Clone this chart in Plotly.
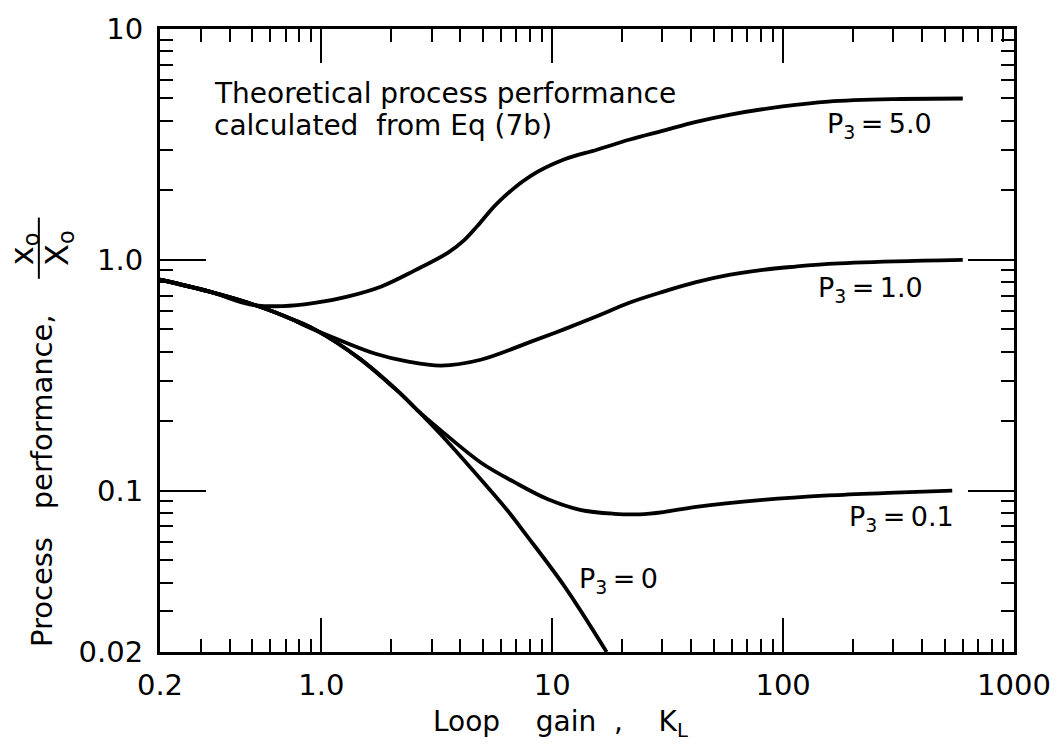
import math
import plotly.graph_objects as go

# ---------------- data ----------------
k_p5 = [0.2, 0.328, 0.49, 0.68, 0.95, 1.31, 1.82, 2.54, 3.54, 4.17, 4.76, 5.80, 8.04,
        11.3, 15.6, 21.7, 30.3, 42.0, 58.3, 99.5, 157, 305, 600]
y_p5 = [0.82, 0.728, 0.641, 0.630, 0.652, 0.695, 0.767, 0.90, 1.075, 1.22, 1.409, 1.767, 2.305,
        2.725, 3.0, 3.32, 3.63, 3.96, 4.25, 4.62, 4.85, 4.97, 5.0]

k_p1 = [0.2, 0.328, 0.538, 0.746, 0.824, 1.225, 1.715, 2.38, 3.30, 4.90, 8.04, 11.3,
        15.6, 21.7, 30.3, 42.0, 58.3, 81.6, 113, 157, 305, 600]
y_p1 = [0.82, 0.728, 0.628, 0.553, 0.526, 0.445, 0.392, 0.362, 0.348, 0.369, 0.441, 0.501,
        0.569, 0.653, 0.728, 0.80, 0.86, 0.905, 0.935, 0.96, 0.985, 1.0]

k_p01 = [0.2, 0.328, 0.538, 0.746, 0.947, 1.45, 2.15, 2.63, 3.30, 4.90, 6.86, 9.52,
         13.2, 18.5, 23.9, 30.3, 42.0, 81.6, 157, 305, 540]
y_p01 = [0.82, 0.728, 0.628, 0.553, 0.496, 0.376, 0.269, 0.221, 0.182, 0.1325, 0.1088, 0.0920,
         0.0826, 0.0794, 0.0790, 0.0808, 0.0851, 0.0912, 0.0954, 0.0980, 0.100]

k_p0 = [0.2, 0.328, 0.538, 0.746, 0.947, 1.45, 2.15, 2.63, 3.30, 4.90, 6.40, 7.58, 11.3, 17.2]
y_p0 = [0.82, 0.728, 0.628, 0.553, 0.496, 0.376, 0.269, 0.221, 0.1746, 0.112, 0.0820, 0.0658, 0.0385, 0.020]

x_tickvals = [0.2, 1, 10, 100, 1000]
x_ticktext = ["0.2", "1.0", "10", "100", "1000"]
x_minor = [0.3, 0.4, 0.5, 0.6, 0.7, 0.8, 0.9,
           2, 3, 4, 5, 6, 7, 8, 9,
           20, 30, 40, 50, 60, 70, 80, 90,
           200, 300, 400, 500, 600, 700, 800, 900]
y_tickvals = [0.02, 0.1, 1, 10]
y_ticktext = ["0.02", "0.1", "1.0", "10"]
y_minor = [0.03, 0.04, 0.05, 0.06, 0.07, 0.08, 0.09,
           0.2, 0.3, 0.4, 0.5, 0.6, 0.7, 0.8, 0.9,
           2, 3, 4, 5, 6, 7, 8, 9]

series = [
    (k_p5, y_p5, "P3 = 5.0"),
    (k_p1, y_p1, "P3 = 1.0"),
    (k_p01, y_p01, "P3 = 0.1"),
    (k_p0, y_p0, "P3 = 0"),
]

# ---------------- layout geometry ----------------
W, H = 1063, 744
L, R, T, B = 160, 1020, 21, 652   # plot area in pixels
FONT = "DejaVu Sans"


def px(xp):
    return (xp - L) / (R - L)


def py(yp):
    return (B - yp) / (B - T)


fig = go.Figure()
for k, y, name in series:
    fig.add_trace(go.Scatter(
        x=k, y=y, mode="lines", name=name,
        line=dict(color="black", width=3.8, shape="spline", smoothing=1.0),
        showlegend=False, hoverinfo="skip",
    ))

eps = 1e-6
fig.update_xaxes(
    type="log", range=[math.log10(0.2) - eps, 3 + eps],
    showline=True, linewidth=3, linecolor="black", mirror="allticks",
    ticks="inside", ticklen=34, tickwidth=2, tickcolor="black",
    tickmode="array", tickvals=x_tickvals, ticktext=x_ticktext,
    tickfont=dict(family=FONT, size=29, color="black"),
    ticklabelstandoff=5,
    showgrid=False, zeroline=False,
    minor=dict(ticks="inside", ticklen=13, tickwidth=2, tickcolor="black",
               tickmode="array", tickvals=x_minor, showgrid=False),
)
fig.update_yaxes(
    type="log", range=[math.log10(0.02) - eps, 1 + eps],
    showline=True, linewidth=3, linecolor="black", mirror="allticks",
    ticks="inside", ticklen=46, tickwidth=2, tickcolor="black",
    tickmode="array", tickvals=y_tickvals, ticktext=y_ticktext,
    tickfont=dict(family=FONT, size=29, color="black"),
    ticklabelstandoff=8,
    showgrid=False, zeroline=False,
    minor=dict(ticks="inside", ticklen=13, tickwidth=2, tickcolor="black",
               tickmode="array", tickvals=y_minor, showgrid=False),
)

NB = "\u00a0"
ann_font = dict(family=FONT, size=28, color="black")
lbl_font = dict(family=FONT, size=27, color="black")
annotations = [
    dict(x=px(213), y=py(86), text="Theoretical process performance",
         xanchor="left", yanchor="middle", font=ann_font, borderpad=0),
    dict(x=px(213), y=py(119), text="calculated" + NB * 2 + "from" + NB + "Eq" + NB + "(7b)",
         xanchor="left", yanchor="middle", font=ann_font, borderpad=0),
    dict(x=px(830), y=py(119), text="P<sub>3</sub>" + "\u2009=\u2009" + "5.0",
         xanchor="left", yanchor="middle", font=lbl_font),
    dict(x=px(821), y=py(285), text="P<sub>3</sub>" + "\u2009=\u2009" + "1.0",
         xanchor="left", yanchor="middle", font=lbl_font),
    dict(x=px(852), y=py(517), text="P<sub>3</sub>" + "\u2009=\u2009" + "0.1",
         xanchor="left", yanchor="middle", font=lbl_font),
    dict(x=px(580), y=py(580), text="P<sub>3</sub>" + "\u2009=\u2009" + "0",
         xanchor="left", yanchor="middle", font=lbl_font),
    # x-axis title
    dict(x=px(433), y=py(724),
         text="Loop" + NB * 4 + "gain" + NB * 2 + "," + NB * 4 + "K<sub>L</sub>",
         xanchor="left", yanchor="middle", font=dict(family=FONT, size=28, color="black")),
    # y-axis title
    dict(x=px(41), y=py(478), text="Process" + NB * 3 + "performance,",
         textangle=-90, xanchor="center", yanchor="middle",
         font=dict(family=FONT, size=29, color="black")),
    dict(x=px(23), y=py(243), text="x<sub>o</sub>",
         textangle=-90, xanchor="center", yanchor="middle",
         font=dict(family=FONT, size=32, color="black")),
    dict(x=px(58), y=py(243), text="X<sub>o</sub>",
         textangle=-90, xanchor="center", yanchor="middle",
         font=dict(family=FONT, size=32, color="black")),
]
for a in annotations:
    a.update(xref="paper", yref="paper", showarrow=False)

fig.update_layout(
    width=W, height=H,
    margin=dict(l=L, r=W - R, t=T, b=H - B, pad=0),
    paper_bgcolor="white", plot_bgcolor="white",
    annotations=annotations,
    shapes=[dict(type="line", xref="paper", yref="paper",
                 x0=px(38), x1=px(38), y0=py(212), y1=py(274),
                 line=dict(color="black", width=2))],
)

fig.write_html("out.html")
